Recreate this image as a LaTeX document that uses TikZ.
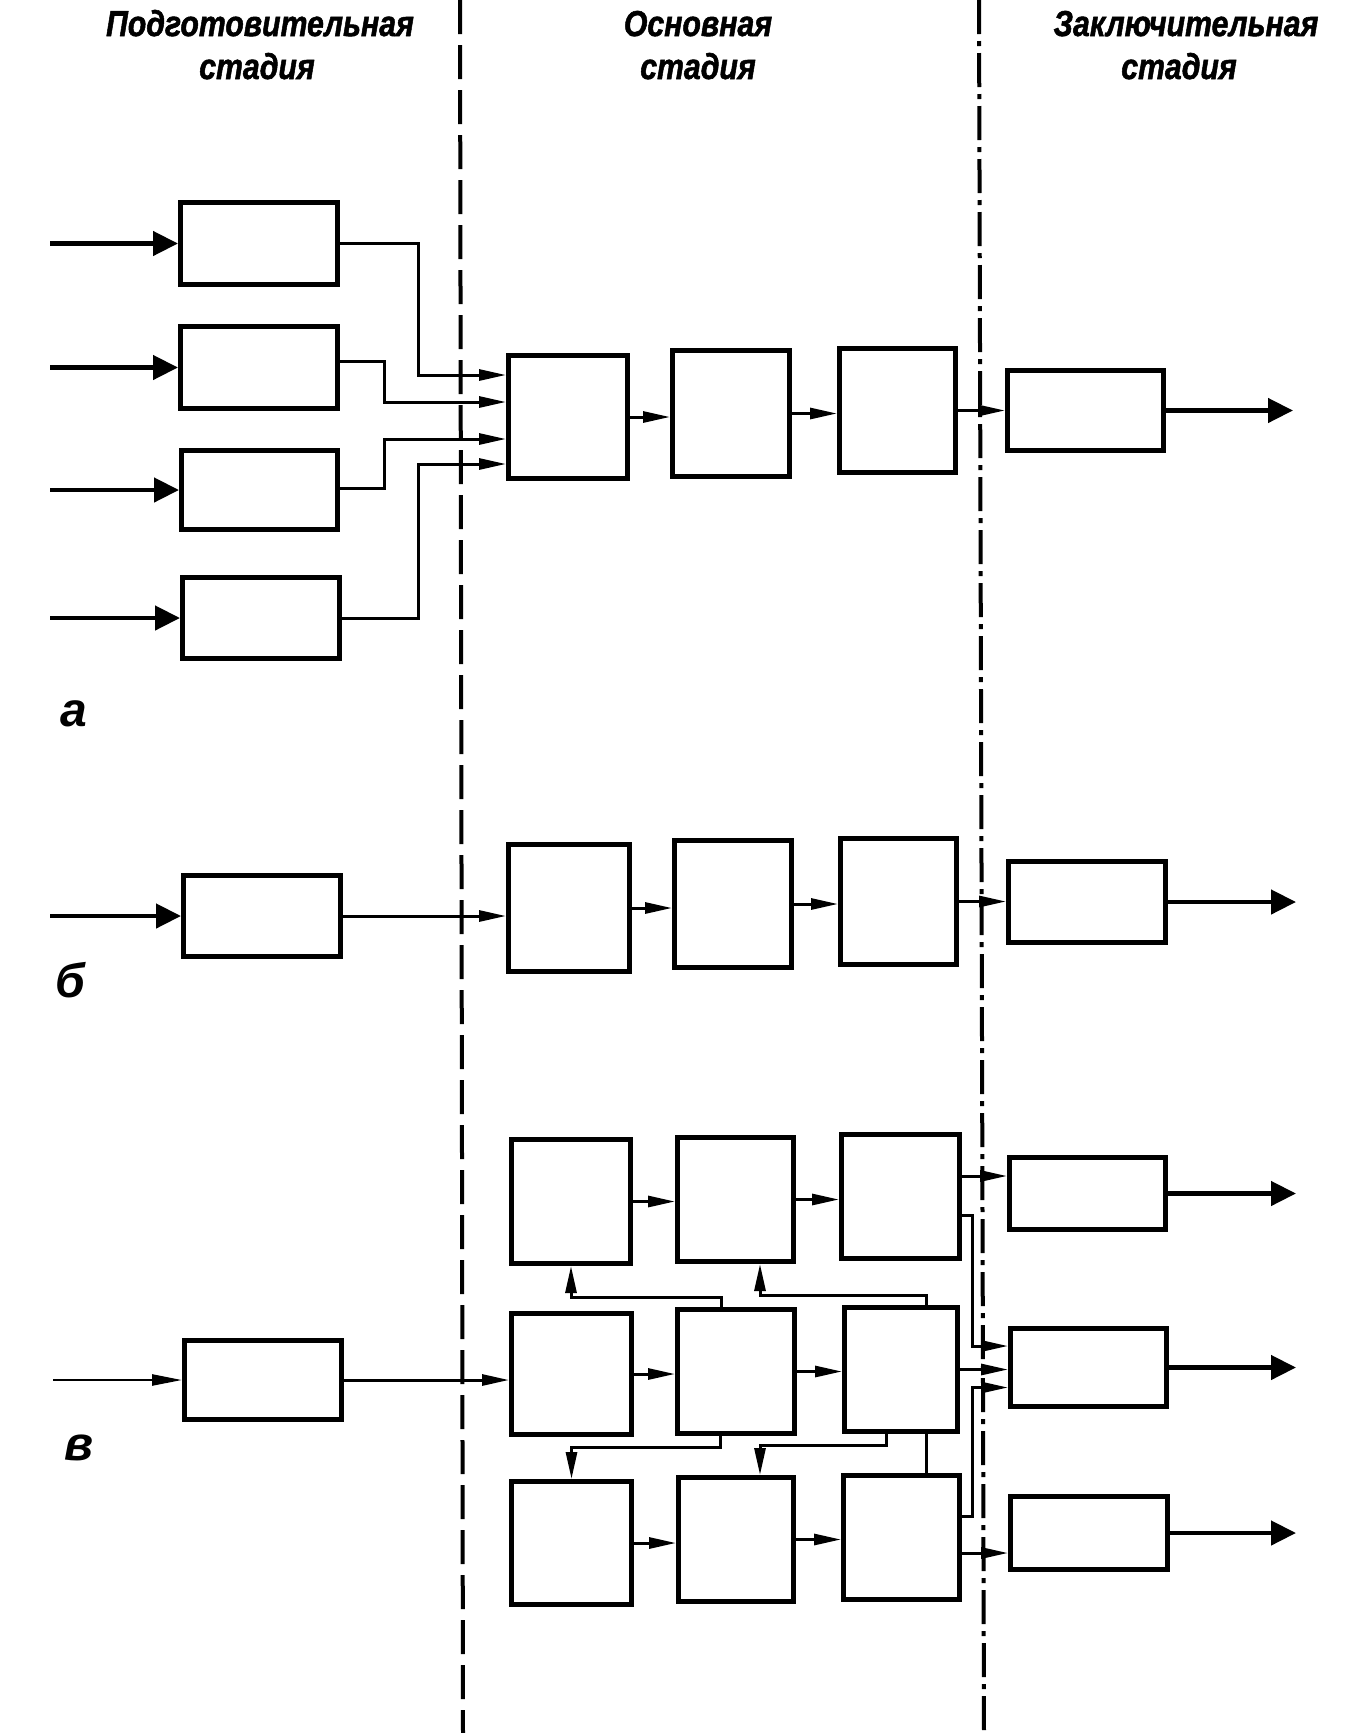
\documentclass[tikz,border=0pt]{standalone}
\usepackage{fontspec}
\newfontfamily\hf{Liberation Sans}
\newfontfamily\hfh{Liberation Sans Bold Italic}[FakeBold=1.6]
\usetikzlibrary{arrows.meta,calc}
\newcommand\hdrtxt[1]{\scalebox{0.84}[1]{#1}}
\tikzset{
 box/.style={draw, line width=5pt, inner sep=0pt, fill=white},
 conn/.style={line width=3pt, -{Triangle[length=27pt,width=11pt]}},
 plainln/.style={line width=3pt},
 bigarr/.style={line width=4.5pt, -{Triangle[length=25pt,width=24pt]}},
 thinarr/.style={line width=2.5pt, -{Triangle[length=30pt,width=11pt]}},
 hdr/.style={font=\hfh\fontsize{36}{42}\selectfont, anchor=base, inner sep=0pt},
 lbl/.style={font=\hf\bfseries\itshape\fontsize{48}{54}\selectfont, anchor=base west, inner sep=0pt},
 stageA/.style={line width=4pt, dash pattern=on 34pt off 11pt},
 stageB/.style={line width=4pt, dash pattern=on 34pt off 7pt on 5pt off 7pt},
}
\newcommand\mkbox[5]{\node[box, minimum width={#4-#2-5}, minimum height={#5-#3-5}] (#1) at ({(#2+#4)/2},{(#3+#5)/2}) {};}
\begin{document}
\begin{tikzpicture}[x=1pt,y=-1pt]
\path[use as bounding box] (0,0) rectangle (1355,1733);
% stage separators
\coordinate (d1t) at (460,0); \coordinate (d1b) at (463,1733);
\coordinate (d2t) at (979,0); \coordinate (d2b) at (984,1733);
\draw[stageA] (d1t) -- (d1b);
\draw[stageB] (d2t) -- (d2b);
% headers
\node[hdr] (h1a) at (260,36) {\hdrtxt{Подготовительная}};
\node[hdr] (h1b) at (257,79) {\hdrtxt{стадия}};
\node[hdr] (h2a) at (698,36) {\hdrtxt{Основная}};
\node[hdr] (h2b) at (698,79) {\hdrtxt{стадия}};
\node[hdr] (h3a) at (1186,36) {\hdrtxt{Заключительная}};
\node[hdr] (h3b) at (1179,79) {\hdrtxt{стадия}};
% labels
\node[lbl] (la) at (60,726) {а};
\node[lbl] (lb) at (55,997) {б};
\node[lbl] (lc) at (64,1460) {в};
% ---------- section a
\mkbox{P1}{178}{200}{340}{287}
\mkbox{P2}{178}{324}{340}{411}
\mkbox{P3}{179}{448}{340}{532}
\mkbox{P4}{180}{575}{342}{661}
\mkbox{M1}{506}{353}{630}{481}
\mkbox{M2}{670}{348}{792}{479}
\mkbox{M3}{837}{346}{958}{475}
\mkbox{F}{1005}{368}{1166}{453}
\coordinate (xin) at (50,0);
\coordinate (xout) at (1293,0);
\coordinate (xoutc) at (1296,0);
\coordinate (t1) at (418,0);
\coordinate (t2) at (384,0);
\foreach \n in {P1,P2,P3,P4} \draw[bigarr] (\n.west -| xin) -- (\n.west);
\coordinate (i1) at ([yshift=42pt]M1.west);
\coordinate (i2) at ([yshift=15pt]M1.west);
\coordinate (i3) at ([yshift=-22pt]M1.west);
\coordinate (i4) at ([yshift=-47pt]M1.west);
\draw[conn] (P1.east) -| (t1 |- i1) -- (i1);
\draw[conn] ([yshift=6.5pt]P2.east) -| (t2 |- i2) -- (i2);
\draw[conn] ([yshift=2pt]P3.east) -| (t2 |- i3) -- (i3);
\draw[conn] (P4.east) -| (t1 |- i4) -- (i4);
\draw[conn] (M1.east) -- (M1.east -| M2.west);
\draw[conn] (M2.east) -- (M2.east -| M3.west);
\draw[conn] (M3.east) -- (M3.east -| F.west);
\draw[bigarr] (F.east) -- (F.east -| xout);
% ---------- section b
\mkbox{PB}{181}{873}{343}{959}
\mkbox{MB1}{506}{842}{632}{974}
\mkbox{MB2}{672}{838}{794}{970}
\mkbox{MB3}{838}{836}{959}{967}
\mkbox{FB}{1006}{859}{1168}{945}
\draw[bigarr] (PB.west -| xin) -- (PB.west);
\draw[conn] (PB.east) -- (PB.east -| MB1.west);
\draw[conn] (MB1.east) -- (MB1.east -| MB2.west);
\draw[conn] (MB2.east) -- (MB2.east -| MB3.west);
\draw[conn] (MB3.east) -- (MB3.east -| FB.west);
\draw[bigarr] (FB.east) -- (FB.east -| xoutc);
% ---------- section c
\mkbox{PC}{182}{1338}{344}{1422}
\mkbox{A1}{509}{1137}{633}{1266}
\mkbox{A2}{675}{1135}{796}{1264}
\mkbox{A3}{839}{1132}{962}{1261}
\mkbox{B1}{509}{1311}{634}{1437}
\mkbox{B2}{675}{1307}{797}{1436}
\mkbox{B3}{842}{1305}{960}{1434}
\mkbox{C1}{509}{1479}{634}{1607}
\mkbox{C2}{676}{1475}{796}{1604}
\mkbox{C3}{841}{1473}{962}{1602}
\mkbox{F1}{1007}{1155}{1168}{1232}
\mkbox{F2}{1008}{1326}{1169}{1409}
\mkbox{F3}{1008}{1494}{1170}{1572}
\coordinate (xin2) at (53,0);
\draw[thinarr] (PC.west -| xin2) -- (PC.west);
\draw[conn] (PC.east) -- (PC.east -| B1.west);
\draw[conn] (A1.east) -- (A1.east -| A2.west);
\draw[conn] (A2.east) -- (A2.east -| A3.west);
\draw[conn] (B1.east) -- (B1.east -| B2.west);
\draw[conn] (B2.east) -- (B2.east -| B3.west);
\draw[conn] (C1.east) -- (C1.east -| C2.west);
\draw[conn] (C2.east) -- (C2.east -| C3.west);
% to final boxes
\coordinate (vx) at (972,0);
\coordinate (a3o1) at ([yshift=20.5pt]A3.east);
\coordinate (a3o2) at ([yshift=-18.5pt]A3.east);
\coordinate (f2i1) at ([yshift=21.5pt]F2.west);
\coordinate (f2i3) at ([yshift=-20pt]F2.west);
\coordinate (c3o1) at ([yshift=21.5pt]C3.east);
\coordinate (c3o2) at ([yshift=-15.5pt]C3.east);
\draw[conn] (a3o1) -- (a3o1 -| F1.west);
\draw[conn] (a3o2) -| (vx |- f2i1) -- (f2i1);
\draw[conn] (B3.east) -- (B3.east -| F2.west);
\draw[conn] (c3o1) -| (vx |- f2i3) -- (f2i3);
\draw[conn] (c3o2) -- (c3o2 -| F3.west);
\draw[bigarr] (F1.east) -- (F1.east -| xoutc);
\draw[bigarr] (F2.east) -- (F2.east -| xoutc);
\draw[bigarr] (F3.east) -- (F3.east -| xoutc);
% vertical links
\coordinate (h1) at (0,1297);
\coordinate (h2) at (0,1295);
\coordinate (h3) at (0,1447);
\coordinate (h4) at (0,1445);
\coordinate (s1) at ([xshift=-15pt]B2.north);
\coordinate (s2) at ([xshift=25pt]B3.north);
\coordinate (s3) at ([xshift=-16pt]B2.south);
\coordinate (s4) at ([xshift=-15pt]B3.south);
\coordinate (s5) at ([xshift=25pt]B3.south);
\draw[conn] (s1) -- (s1 |- h1) -| (A1.south);
\draw[conn] (s2) -- (s2 |- h2) -| ([xshift=24.5pt]A2.south);
\draw[conn] (s3) -- (s3 |- h3) -| (C1.north);
\draw[conn] (s4) -- (s4 |- h4) -| ([xshift=24pt]C2.north);
\draw[plainln] (s5) -- (s5 |- C3.north);
\end{tikzpicture}
\end{document}
